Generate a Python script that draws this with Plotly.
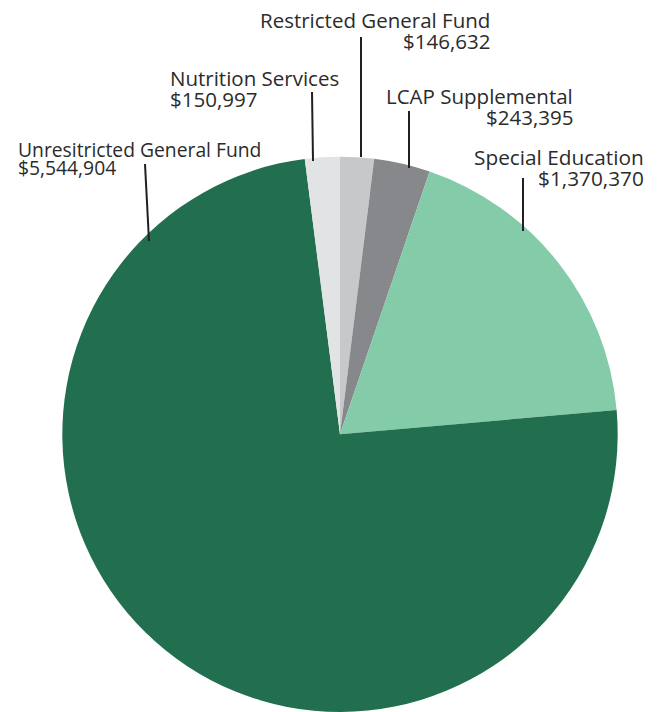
import plotly.graph_objects as go

# Funding sources, in clockwise order starting at 12 o'clock
categories = [
    "Restricted General Fund",
    "LCAP Supplemental",
    "Special Education",
    "Unresitricted General Fund",
    "Nutrition Services",
]
amounts = [146632, 243395, 1370370, 5544904, 150997]
colors = ["#c7c8ca", "#87888c", "#84cbaa", "#216f4e", "#e2e3e5"]

W, H = 660, 712
FONT = "Open Sans"
TEXT_COLOR = "#2b2b2b"
LINE_COLOR = "#231f20"

# Label layout (pixels): text anchor x, alignment, first baseline y, line gap,
# font size, and leader line from (x0, y0) to (x1, y1)
label_layout = {
    "Restricted General Fund": dict(x=491, align="right", base=27, gap=21, fs=20.5,
                                    line=(361, 37, 361, 157)),
    "LCAP Supplemental": dict(x=574, align="right", base=103, gap=21, fs=20.5,
                              line=(409, 111, 409, 168)),
    "Special Education": dict(x=645, align="right", base=164, gap=21, fs=20.8,
                              line=(523, 178, 523, 231)),
    "Unresitricted General Fund": dict(x=17, align="left", base=156, gap=18, fs=19.3,
                                       line=(145, 164, 149, 241)),
    "Nutrition Services": dict(x=169, align="left", base=85, gap=21, fs=20.5,
                               line=(312, 92, 313, 161)),
}


def px(x, y):
    """Pixel position (from top-left) to paper coordinates."""
    return x / W, 1 - y / H


fig = go.Figure(
    go.Pie(
        labels=categories,
        values=amounts,
        sort=False,
        direction="clockwise",
        rotation=0,
        marker=dict(colors=colors, line=dict(width=0)),
        textinfo="none",
        hoverinfo="label+value",
        domain=dict(x=[62 / W, 618 / W], y=[0, 0.78]),
        showlegend=False,
    )
)

annotations = []
shapes = []
for name, value in zip(categories, amounts):
    spec = label_layout[name]
    fs = spec["fs"]
    for i, text in enumerate([name, f"${value:,}"]):
        base = spec["base"] + i * spec["gap"]
        ax, ay = px(spec["x"], base - 0.36 * fs)
        annotations.append(
            dict(
                x=ax, y=ay, xref="paper", yref="paper",
                text=text, showarrow=False,
                xanchor=spec["align"], yanchor="middle", align=spec["align"],
                font=dict(family=FONT, size=fs, color=TEXT_COLOR),
                borderpad=0,
            )
        )
    x0, y0, x1, y1 = spec["line"]
    p0, p1 = px(x0, y0), px(x1, y1)
    shapes.append(
        dict(type="line", xref="paper", yref="paper",
             x0=p0[0], y0=p0[1], x1=p1[0], y1=p1[1],
             line=dict(color=LINE_COLOR, width=2))
    )

fig.update_layout(
    width=W, height=H,
    margin=dict(l=0, r=0, t=0, b=0),
    paper_bgcolor="white",
    plot_bgcolor="white",
    annotations=annotations,
    shapes=shapes,
)

fig.write_html("out.html")
